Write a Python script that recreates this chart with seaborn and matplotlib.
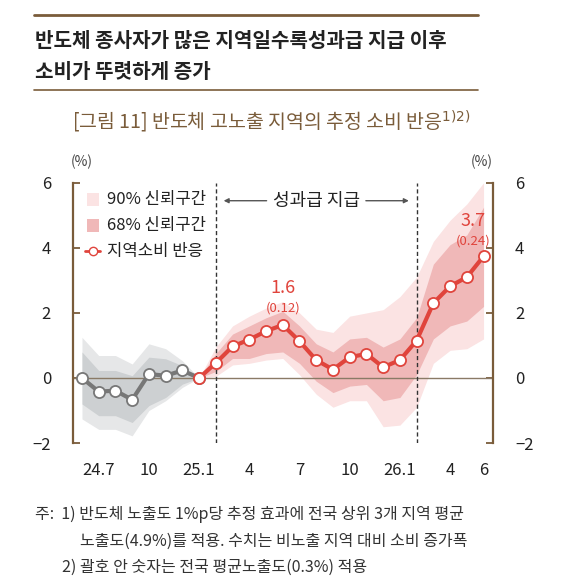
import matplotlib
matplotlib.use("Agg")
import matplotlib.pyplot as plt
import seaborn as sns
import numpy as np
import pandas as pd

sns.set_theme(style="white")
plt.rcParams['font.family'] = ['Noto Sans CJK KR', 'DejaVu Sans']
plt.rcParams['axes.unicode_minus'] = True

idx = list(range(25))
resp = [0, -0.42, -0.39, -0.67, 0.12, 0.07, 0.23, 0, 0.46, 0.97, 1.18, 1.44, 1.63, 1.13,
        0.55, 0.26, 0.64, 0.74, 0.33, 0.55, 1.15, 2.3, 2.82, 3.1, 3.74]
up68 = [0.8, 0.23, 0.23, 0.07, 0.64, 0.59, 0.38, 0, 0.75, 1.35, 1.6, 1.85, 2.05, 1.6,
        1.05, 0.8, 1.2, 1.25, 0.95, 1.2, 1.85, 3.5, 4.1, 4.4, 5.25]
lo68 = [-0.8, -1.16, -1.16, -1.37, -0.85, -0.6, -0.19, 0, 0.2, 0.6, 0.6, 0.75, 0.8, 0.45,
        -0.1, -0.45, -0.25, -0.2, -0.7, -0.6, 0.1, 1.2, 1.6, 1.75, 2.2]
up90 = [1.25, 0.69, 0.69, 0.43, 1.05, 0.9, 0.53, 0, 0.95, 1.6, 1.9, 2.15, 2.35, 2.0,
        1.5, 1.4, 1.9, 2.0, 2.1, 2.5, 3.1, 4.2, 4.85, 5.35, 6.0]
lo90 = [-1.26, -1.58, -1.58, -1.78, -1.0, -0.7, -0.29, 0, 0.05, 0.4, 0.45, 0.55, 0.6, 0.1,
        -0.5, -0.9, -0.7, -0.7, -1.5, -1.45, -0.9, 0.45, 0.85, 0.9, 1.2]
tick_pos = [1, 4, 7, 10, 13, 16, 19, 22, 24]
tick_labels = ["24.7", "10", "25.1", "4", "7", "10", "26.1", "4", "6"]
split = 7
vlines = [8, 20]

df = pd.DataFrame(dict(i=idx, r=resp))
brown = "#7a5c3a"
fig = plt.figure(figsize=(5.77, 5.86), dpi=100)
ax = fig.add_axes([0.127, 0.244, 0.727, 0.444])

g = slice(0, split + 1); r = slice(split, 25)
ax.fill_between(idx[g], lo90[g], up90[g], color="#e6e7e8", lw=0)
ax.fill_between(idx[g], lo68[g], up68[g], color="#cdd0d2", lw=0)
ax.fill_between(idx[r], lo90[r], up90[r], color="#fbe3e3", lw=0)
ax.fill_between(idx[r], lo68[r], up68[r], color="#f0b8b8", lw=0)
ax.axhline(0, color="#8a7a66", lw=1)
for v in vlines:
    ax.axvline(v, color="#333333", lw=1, ls=(0, (3, 2)))
sns.lineplot(data=df.iloc[:split + 1], x="i", y="r", ax=ax, color="#777777", lw=3,
             marker="o", markersize=8, markerfacecolor="white", markeredgecolor="#777777",
             markeredgewidth=1.3, zorder=5)
sns.lineplot(data=df.iloc[split:], x="i", y="r", ax=ax, color="#e0443c", lw=3,
             marker="o", markersize=8, markerfacecolor="white", markeredgecolor="#e0443c",
             markeredgewidth=1.3, zorder=5)
ax.set_xlim(-0.52, 24.55)
ax.set_ylim(-2, 6)
ax.set_xlabel(""); ax.set_ylabel("")
ax.set_xticks(tick_pos)
ax.set_xticklabels(tick_labels, fontsize=12, color="#222222")
ax.tick_params(axis="x", length=0, pad=14)
ax.set_yticks([-2, 0, 2, 4, 6])
ax.set_yticklabels(["−2", "0", "2", "4", "6"], fontsize=12, color="#222222")
ax.tick_params(axis="y", direction="in", length=5, color=brown, width=1.3,
               left=True, right=True, labelleft=True, labelright=True, pad=16)
for s in ["top", "bottom"]:
    ax.spines[s].set_visible(False)
for s in ["left", "right"]:
    ax.spines[s].set_color(brown); ax.spines[s].set_linewidth(1.6)

ax.text(12, 2.5, "1.6", color="#e0443c", fontsize=13, ha="center", va="bottom")
ax.text(12, 1.95, "(0.12)", color="#e0443c", fontsize=9.5, ha="center", va="bottom")
ax.text(23.4, 4.55, "3.7", color="#e0443c", fontsize=13, ha="center", va="bottom")
ax.text(23.4, 4.0, "(0.24)", color="#e0443c", fontsize=9.5, ha="center", va="bottom")
ax.text(14, 5.45, "성과급 지급", fontsize=13, ha="center", va="center", color="#222222")
ax.annotate("", xy=(8.3, 5.45), xytext=(11.2, 5.45),
            arrowprops=dict(arrowstyle="-|>", color="#555555", lw=1, mutation_scale=7))
ax.annotate("", xy=(19.7, 5.45), xytext=(16.8, 5.45),
            arrowprops=dict(arrowstyle="-|>", color="#555555", lw=1, mutation_scale=7))

ax.add_patch(plt.Rectangle((0.3, 5.3), 0.7, 0.4, color="#fbe3e3", lw=0))
ax.add_patch(plt.Rectangle((0.3, 4.5), 0.7, 0.4, color="#f0b8b8", lw=0))
ax.plot([0.2, 1.1], [3.9, 3.9], color="#e0443c", lw=2)
ax.plot([0.65], [3.9], "o", ms=6, mfc="white", mec="#e0443c")
ax.text(1.5, 5.5, "90% 신뢰구간", fontsize=12, va="center", color="#222222")
ax.text(1.5, 4.7, "68% 신뢰구간", fontsize=12, va="center", color="#222222")
ax.text(1.5, 3.9, "지역소비 반응", fontsize=12, va="center", color="#222222")

fig.text(82 / 577, 1 - 166 / 586, "(%)", fontsize=10, ha="center", color="#444444")
fig.text(482 / 577, 1 - 166 / 586, "(%)", fontsize=10, ha="center", color="#444444")

for yy in [15, 90]:
    fig.add_artist(plt.Line2D([34 / 577, 478 / 577], [1 - yy / 586] * 2, color=brown, lw=2 if yy == 15 else 1.2))
fig.text(35 / 577, 1 - 40 / 586, "반도체 종사자가 많은 지역일수록성과급 지급 이후", fontsize=14.5,
         weight="bold", va="center", color="#222222")
fig.text(35 / 577, 1 - 71 / 586, "소비가 뚜렷하게 증가", fontsize=14.5, weight="bold", va="center", color="#222222")
fig.text(0.5 - 0.03, 1 - 122 / 586, "[그림 11] 반도체 고노출 지역의 추정 소비 반응$^{1)2)}$", fontsize=14,
         ha="center", va="center", color="#7a5c3a")

fs = 11.5
fig.text(35 / 577, 1 - 514 / 586, "주:  1) 반도체 노출도 1%p당 추정 효과에 전국 상위 3개 지역 평균", fontsize=fs, va="center", color="#333333")
fig.text(80 / 577, 1 - 541 / 586, "노출도(4.9%)를 적용. 수치는 비노출 지역 대비 소비 증가폭", fontsize=fs, va="center", color="#333333")
fig.text(62 / 577, 1 - 567 / 586, "2) 괄호 안 숫자는 전국 평균노출도(0.3%) 적용", fontsize=fs, va="center", color="#333333")

fig.savefig("out.png", dpi=100)
